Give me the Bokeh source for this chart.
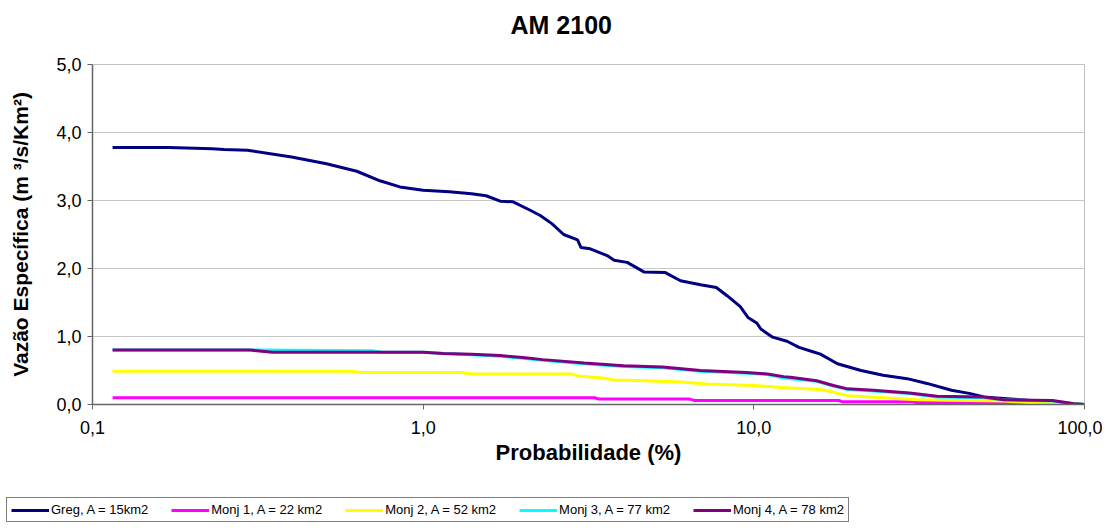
from bokeh.plotting import figure
from bokeh.layouts import column
from bokeh.models import FixedTicker, Legend, LegendItem, Range1d, Title
from bokeh.embed import file_html
from bokeh.resources import INLINE

title_text = "AM 2100"
x_label = "Probabilidade (%)"
y_label = "Vazão Específica (m ³/s/Km²)"

x_ticks = [0.1, 1, 10, 100]
x_tick_labels = ["0,1", "1,0", "10,0", "100,0"]
y_ticks = [0, 1, 2, 3, 4, 5]
y_tick_labels = ["0,0", "1,0", "2,0", "3,0", "4,0", "5,0"]

series_names = ["Greg, A = 15km2", "Monj 1, A = 22 km2", "Monj 2, A = 52 km2",
                "Monj 3, A = 77 km2", "Monj 4, A = 78 km2"]
series_colors = ["#000080", "#FF00FF", "#FFFF00", "#00FFFF", "#800080"]

greg_p = [0.115, 0.17, 0.23, 0.25, 0.294, 0.40, 0.51, 0.63, 0.74, 0.85, 1.0, 1.2, 1.4,
          1.55, 1.71, 1.87, 2.1, 2.26, 2.45, 2.66, 2.93, 3.0, 3.2, 3.6, 3.78, 4.14, 4.65,
          5.4, 6.0, 6.9, 7.7, 8.3, 9.1, 9.6, 10.2, 10.5, 11.4, 12.6, 13.7, 15.0, 15.9,
          17.9, 21.1, 24.6, 29.1, 33.4, 39.6, 45.2, 49.6, 57, 68, 80, 91, 100]
greg_v = [3.78, 3.78, 3.76, 3.75, 3.74, 3.64, 3.54, 3.43, 3.29, 3.20, 3.15, 3.13, 3.10,
          3.07, 2.99, 2.98, 2.86, 2.78, 2.66, 2.50, 2.42, 2.31, 2.29, 2.19, 2.12, 2.09, 1.95,
          1.94, 1.82, 1.76, 1.72, 1.60, 1.44, 1.28, 1.20, 1.11, 0.99, 0.93, 0.84, 0.78, 0.74,
          0.60, 0.50, 0.43, 0.38, 0.31, 0.21, 0.16, 0.11, 0.09, 0.06, 0.04, 0.01, 0.0]

monj1_p = [0.115, 3.3, 3.4, 6.4, 6.6, 18.1, 18.5, 30, 31, 65, 67, 100]
monj1_v = [0.10, 0.10, 0.08, 0.08, 0.06, 0.06, 0.04, 0.04, 0.03, 0.03, 0.01, 0.0]

monj2_p = [0.115, 0.60, 0.65, 1.3, 1.4, 2.8, 2.93, 3.5, 3.78, 4.65, 6.0, 7.2, 10.0, 12.1,
           15.9, 17.4, 19.2, 24.6, 31.3, 44, 57, 67, 78, 100]
monj2_v = [0.49, 0.49, 0.47, 0.47, 0.45, 0.45, 0.42, 0.39, 0.36, 0.35, 0.33, 0.30, 0.28, 0.25,
           0.22, 0.18, 0.13, 0.10, 0.07, 0.06, 0.05, 0.03, 0.02, 0.0]

monj3_p = [0.115, 0.30, 0.7, 0.75, 1.0, 1.15, 1.4, 1.71, 2.0, 2.3, 3.07, 4.04, 5.3, 6.9, 9.5,
           11.0, 12.3, 15.5, 17.4, 19.2, 23, 29.6, 35.8, 49.6, 57, 80, 93, 100]
monj3_v = [0.80, 0.80, 0.79, 0.77, 0.77, 0.75, 0.73, 0.71, 0.68, 0.65, 0.60, 0.56, 0.54, 0.49,
           0.46, 0.44, 0.39, 0.34, 0.27, 0.22, 0.20, 0.16, 0.11, 0.10, 0.07, 0.05, 0.01, 0.0]

monj4_p = [0.115, 0.30, 0.35, 1.0, 1.15, 1.4, 1.71, 2.0, 2.3, 3.07, 4.04, 5.3, 6.9, 9.5, 11.0,
           12.3, 12.9, 15.5, 17.4, 19.2, 23, 29.6, 35.8, 49.6, 57, 80, 93, 100]
monj4_v = [0.80, 0.80, 0.77, 0.77, 0.75, 0.74, 0.72, 0.69, 0.66, 0.61, 0.57, 0.55, 0.50, 0.47,
           0.45, 0.41, 0.40, 0.35, 0.28, 0.23, 0.21, 0.17, 0.12, 0.11, 0.07, 0.06, 0.01, 0.0]

series_p = [greg_p, monj1_p, monj2_p, monj3_p, monj4_p]
series_v = [greg_v, monj1_v, monj2_v, monj3_v, monj4_v]

FONT = "Liberation Sans"
W = 1102

p = figure(width=W, height=476, x_axis_type="log",
           x_range=Range1d(0.1, 100), y_range=Range1d(0, 5),
           output_backend="svg", toolbar_location=None, title_location=None,
           min_border_left=92, min_border_right=18, min_border_top=64, min_border_bottom=72)

# gap between plot area and title (added first: nearest the frame)
p.add_layout(Title(text=" ", text_font_size="1px", standoff=23), "above")
main_title = Title(text=title_text, align="left", offset=418, standoff=0,
                   text_font=FONT, text_font_size="25px", text_font_style="bold",
                   text_color="black")
p.add_layout(main_title, "above")

p.outline_line_color = "#c0c0c0"
p.background_fill_color = "white"
p.border_fill_color = "white"

p.xgrid.grid_line_color = None
p.ygrid.grid_line_color = "#c8c8c8"
p.ygrid.grid_line_width = 1

p.xaxis.ticker = FixedTicker(ticks=x_ticks)
p.xaxis.major_label_overrides = {t: l for t, l in zip(x_ticks, x_tick_labels)}
p.yaxis.ticker = FixedTicker(ticks=y_ticks)
p.yaxis.major_label_overrides = {t: l for t, l in zip(y_ticks, y_tick_labels)}

for ax in (p.xaxis, p.yaxis):
    ax.axis_line_color = "#666666"
    ax.axis_line_width = 1.5
    ax.major_tick_line_color = "#666666"
    ax.major_tick_in = 0
    ax.major_tick_out = 5
    ax.minor_tick_line_color = None
    ax.major_label_text_font = FONT
    ax.major_label_text_font_size = "18px"
    ax.major_label_text_color = "black"
    ax.axis_label_text_font = FONT
    ax.axis_label_text_font_style = "bold"
    ax.axis_label_text_color = "black"

p.xaxis.axis_label = x_label
p.xaxis.axis_label_text_font_size = "22px"
p.xaxis.major_label_standoff = 11
p.xaxis.axis_label_standoff = 3
p.yaxis.axis_label = y_label
p.yaxis.axis_label_text_font_size = "21px"
p.yaxis.major_label_standoff = 6
p.yaxis.axis_label_standoff = 21

for color, xs, ys in zip(series_colors, series_p, series_v):
    p.line(xs, ys, line_color=color, line_width=3)

# legend strip below the chart
leg = figure(width=W, height=52, x_range=Range1d(0, 1), y_range=Range1d(0, 1),
             output_backend="svg", toolbar_location=None,
             x_axis_location=None, y_axis_location=None,
             min_border_left=0, min_border_right=0, min_border_top=0, min_border_bottom=0)
if "frame_align" in leg.properties():
    leg.frame_align = False
    p.frame_align = False
leg.outline_line_color = None
leg.xgrid.grid_line_color = None
leg.ygrid.grid_line_color = None

items = []
for name, color in zip(series_names, series_colors):
    # off-range proxy glyph: only its legend swatch is shown
    r = leg.line([-2, -1], [-2, -2], line_color=color, line_width=3)
    items.append(LegendItem(label=name, renderers=[r]))

legend = Legend(items=items, orientation="horizontal", location=(6, 6))
legend.border_line_color = "black"
legend.border_line_width = 1
legend.background_fill_color = "white"
legend.background_fill_alpha = 1
legend.label_text_font = FONT
legend.label_text_font_size = "13px"
legend.label_text_color = "black"
legend.glyph_width = 38
legend.glyph_height = 14
legend.label_standoff = 2
legend.spacing = 23
legend.padding = 4
legend.margin = 0
legend.label_height = 14
leg.add_layout(legend, "center")

layout = column(p, leg, spacing=0)
open("out.html", "w").write(file_html(layout, INLINE))
